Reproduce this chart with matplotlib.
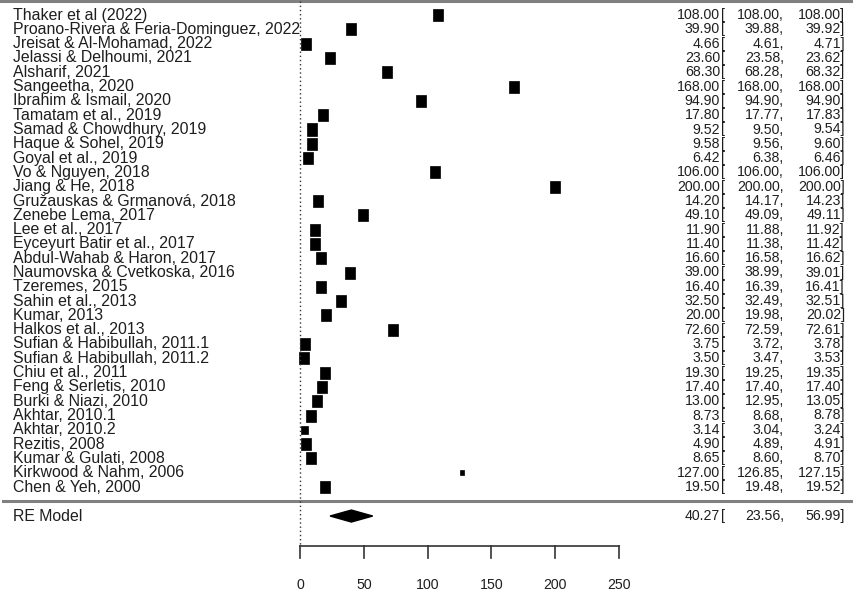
import numpy as np
import matplotlib.pyplot as plt
from matplotlib.patches import Rectangle, Polygon

# study labels, estimates and confidence limits (top to bottom)
studies = [
    "Thaker et al (2022)", "Proano-Rivera & Feria-Dominguez, 2022",
    "Jreisat & Al-Mohamad, 2022", "Jelassi & Delhoumi, 2021", "Alsharif, 2021",
    "Sangeetha, 2020", "Ibrahim & Ismail, 2020", "Tamatam et al., 2019",
    "Samad & Chowdhury, 2019", "Haque & Sohel, 2019", "Goyal et al., 2019",
    "Vo & Nguyen, 2018", "Jiang & He, 2018", "Gružauskas & Grmanová, 2018",
    "Zenebe Lema, 2017", "Lee et al., 2017", "Eyceyurt Batir et al., 2017",
    "Abdul-Wahab & Haron, 2017", "Naumovska & Cvetkoska, 2016", "Tzeremes, 2015",
    "Sahin et al., 2013", "Kumar, 2013", "Halkos et al., 2013",
    "Sufian & Habibullah, 2011.1", "Sufian & Habibullah, 2011.2", "Chiu et al., 2011",
    "Feng & Serletis, 2010", "Burki & Niazi, 2010", "Akhtar, 2010.1", "Akhtar, 2010.2",
    "Rezitis, 2008", "Kumar & Gulati, 2008", "Kirkwood & Nahm, 2006", "Chen & Yeh, 2000",
]
est = [108.00, 39.90, 4.66, 23.60, 68.30, 168.00, 94.90, 17.80, 9.52, 9.58, 6.42,
       106.00, 200.00, 14.20, 49.10, 11.90, 11.40, 16.60, 39.00, 16.40, 32.50, 20.00,
       72.60, 3.75, 3.50, 19.30, 17.40, 13.00, 8.73, 3.14, 4.90, 8.65, 127.00, 19.50]
lower = [108.00, 39.88, 4.61, 23.58, 68.28, 168.00, 94.90, 17.77, 9.50, 9.56, 6.38,
         106.00, 200.00, 14.17, 49.09, 11.88, 11.38, 16.58, 38.99, 16.39, 32.49, 19.98,
         72.59, 3.72, 3.47, 19.25, 17.40, 12.95, 8.68, 3.04, 4.89, 8.60, 126.85, 19.48]
upper = [108.00, 39.92, 4.71, 23.62, 68.32, 168.00, 94.90, 17.83, 9.54, 9.60, 6.46,
         106.00, 200.00, 14.23, 49.11, 11.92, 11.42, 16.62, 39.01, 16.41, 32.51, 20.02,
         72.61, 3.78, 3.53, 19.35, 17.40, 13.05, 8.78, 3.24, 4.91, 8.70, 127.15, 19.52]
# relative box size (1 = full box)
box = [1.0] * len(studies)
box[studies.index("Akhtar, 2010.2")] = 0.7
box[studies.index("Kirkwood & Nahm, 2006")] = 0.4

re_est, re_lo, re_hi = 40.27, 23.56, 56.99
xticks = [0, 50, 100, 150, 200, 250]

k = len(studies)
rows = np.arange(k, 0, -1)

W, H = 854, 600
fig = plt.figure(figsize=(W / 100, H / 100), dpi=100)
ax = fig.add_axes([0, 0, 1, 1])
ax.set_axis_off()

# pixel scale: x=0 at 300px, 1 unit = 1.276px; 1 row = 14.3px, row 0 at 501.3px
px_x = 1.276
px_y = 14.3
y0 = 501.3
ax.set_xlim(-300 / px_x, (W - 300) / px_x)
ax.set_ylim(-(H - y0) / px_y, y0 / px_y)

txt = "#1e1e1e"
lab_font = dict(family=["Liberation Sans", "DejaVu Sans"], fontsize=11.4, color=txt)
num_font = dict(family=["Liberation Sans", "DejaVu Sans"], fontsize=10.2, color=txt)
tick_font = dict(family=["Liberation Sans", "DejaVu Sans"], fontsize=10.2, color=txt)

# horizontal rules
ax.axhline(k + 1, color="#808080", lw=2.2)
ax.plot([-297 / px_x, (W - 300) / px_x], [0, 0], color="#808080", lw=2.2)

# reference line at zero
axis_y = -3.1
ax.plot([0, 0], [k + 1, axis_y], color="#333333", lw=1, linestyle=(0, (1, 2)))

x_left = -287 / px_x
col_est = 420 / px_x
col_br = 421 / px_x
col_lo = 484 / px_x
col_hi = 545 / px_x


def ci_text(y, e, lo, hi):
    ax.text(col_est, y, f"{e:.2f}", ha="right", va="center", **num_font)
    ax.text(col_br, y, "[", ha="left", va="center", **num_font)
    ax.text(col_lo, y, f"{lo:.2f},", ha="right", va="center", **num_font)
    ax.text(col_hi, y, f"{hi:.2f}]", ha="right", va="center", **num_font)


bw = 10 / px_x
bh = 12 / px_y
for y, name, e, lo, hi, s in zip(rows, studies, est, lower, upper, box):
    ax.plot([lo, hi], [y, y], color="black", lw=1)
    ax.add_patch(Rectangle((e - bw * s / 2, y - bh * s / 2), bw * s, bh * s,
                           facecolor="black", edgecolor="black", lw=0.5))
    ax.text(x_left, y, name, ha="left", va="center", **lab_font)
    ci_text(y, e, lo, hi)

# summary diamond
re_y = -1.03
dh = 6 / px_y
ax.add_patch(Polygon([(re_lo, re_y), (re_est, re_y + dh), (re_hi, re_y), (re_est, re_y - dh)],
                     closed=True, facecolor="black", edgecolor="black"))
ax.text(x_left, re_y, "RE Model", ha="left", va="center", **lab_font)
ci_text(re_y, re_est, re_lo, re_hi)

# x axis
ax.plot([xticks[0], xticks[-1]], [axis_y, axis_y], color="#333333", lw=1.2)
for t in xticks:
    ax.plot([t, t], [axis_y, axis_y - 12 / px_y], color="#333333", lw=1.2)
    ax.text(t, -5.85, str(t), ha="center", va="center", **tick_font)

fig.savefig("out.png", dpi=100)
